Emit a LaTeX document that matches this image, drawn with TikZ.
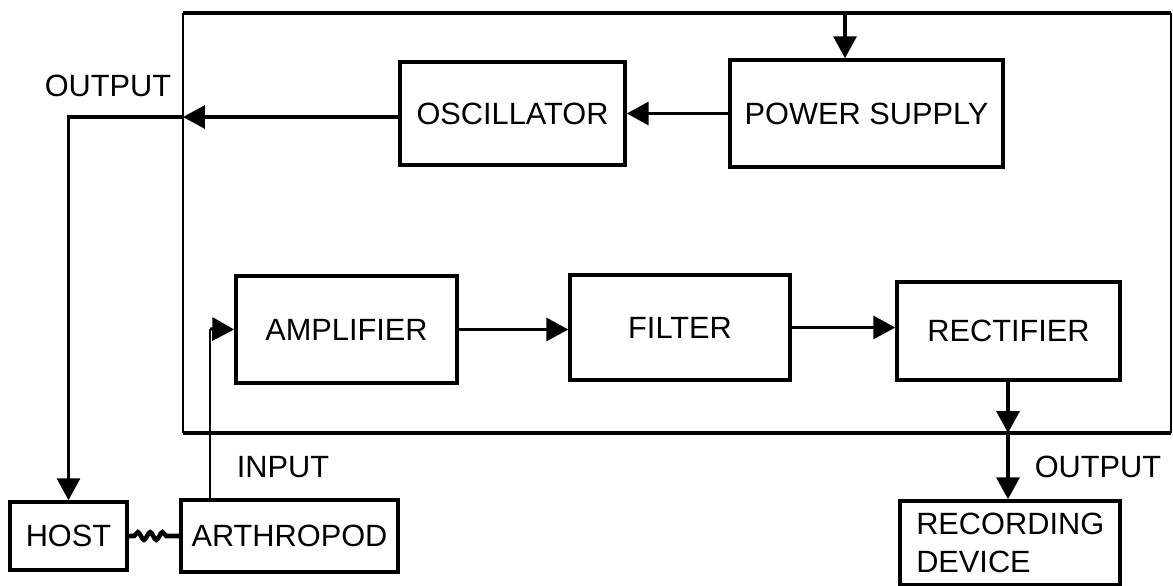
\documentclass[tikz,border=0pt]{standalone}
\usepackage{fontspec}
\setmainfont{Liberation Sans}
\usetikzlibrary{arrows.meta,decorations.pathmorphing}
\begin{document}
\begin{tikzpicture}[x=0.02cm,y=-0.02cm,
  box/.style={draw, line width=2pt, inner sep=0pt, font=\fontsize{17.5}{20}\selectfont},
  lbl/.style={inner sep=0pt, font=\fontsize{17.5}{20}\selectfont},
  thickline/.style={line width=2.2pt},
  thinline/.style={line width=1.2pt},
  arr/.style={line width=1.9pt, -{Triangle[length=0.44cm,width=0.46cm]}},
  thinarr/.style={line width=1.2pt, -{Triangle[length=0.44cm,width=0.46cm]}}]
\useasboundingbox (0,0) rectangle (1173,585);
% frame corners
\coordinate (ftl) at (183,13);
\coordinate (ftr) at (1171,13);
\coordinate (fbr) at (1171,433);
\coordinate (fbl) at (183,433);
\draw[thickline] (ftl) -- (ftr);
\draw[thinline] (ftr) -- (fbr);
\draw[thickline] (fbr) -- (fbl);
\draw[thinline] (fbl) -- (ftl);
% boxes
\node[box, minimum width=4.5cm, minimum height=2.06cm] (osc) at (512.5,113.5) {OSCILLATOR};
\node[box, minimum width=5.46cm, minimum height=2.14cm] (ps) at (866.5,113.5) {POWER SUPPLY};
\node[box, minimum width=4.42cm, minimum height=2.14cm] (amp) at (346.5,329.5) {AMPLIFIER};
\node[box, minimum width=4.4cm, minimum height=2.1cm] (fil) at (680,327.5) {FILTER};
\node[box, minimum width=4.46cm, minimum height=1.96cm] (rect) at (1008.5,331) {RECTIFIER};
\node[box, minimum width=2.34cm, minimum height=1.36cm] (host) at (68.5,536) {HOST};
\node[box, minimum width=4.34cm, minimum height=1.44cm] (arth) at (289.5,536) {ARTHROPOD};
\node[box, minimum width=4.4cm, minimum height=1.68cm, align=left, text width=3.75cm,
  font=\fontsize{17.5}{22}\selectfont] (rec) at (1010,543) {RECORDING\\DEVICE};
% labels
\node[lbl] (out1) at (108,86) {OUTPUT};
\node[lbl] (inp) at (283,467) {INPUT};
\node[lbl] (out2) at (1098,467) {OUTPUT};
% connectors
\coordinate (ptop) at (845,13);
\draw[arr] (ptop) -- (ptop |- ps.north);
\draw[arr] (ps.west) -- (osc.east);
\coordinate (j1) at (183,117);
\draw[arr] (osc.west |- j1) -- (j1);
\draw[arr] (j1) -| (host.north);
\coordinate (inbend) at (210,329);
\draw[thinline] (inbend |- arth.north) -- (inbend);
\draw[arr] (inbend) -- (amp.west);
\draw[arr] (amp.east) -- (amp.east -| fil.west);
\draw[arr] (fil.east) -- (fil.east -| rect.west);
\coordinate (j2) at (1008,433);
\draw[arr] (j2 |- rect.south) -- (j2);
\draw[arr] (j2) -- (j2 |- rec.north);
\draw[line width=2.6pt, decorate, decoration={snake, amplitude=2.2pt, segment length=7pt, pre length=3pt, post length=6pt}] (host.east) -- (arth.west);
\end{tikzpicture}
\end{document}
